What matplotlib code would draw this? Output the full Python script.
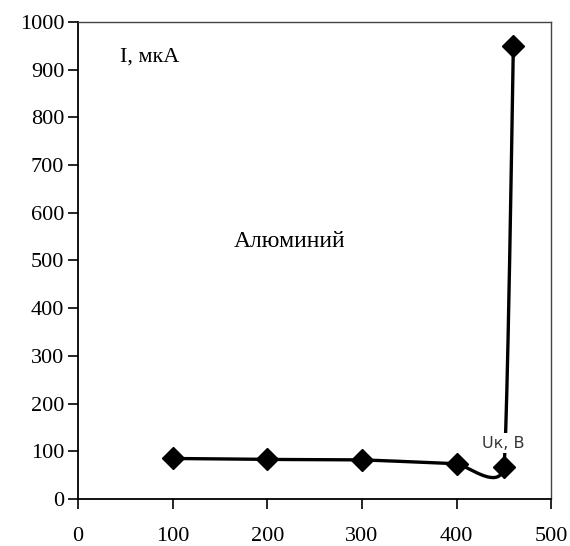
import matplotlib.pyplot as plt
import numpy as np

# data
u_kv = [100, 200, 300, 400, 450, 460]
i_mka = [85, 83, 82, 74, 68, 950]
x_ticks = [0, 100, 200, 300, 400, 500]
y_ticks = [0, 100, 200, 300, 400, 500, 600, 700, 800, 900, 1000]


def smooth(xs, ys, k=1/16., n=60):
    # Excel-like smoothed line (Bezier through the points)
    pts = np.column_stack([np.asarray(xs, float), np.asarray(ys, float)])
    out = []
    for i in range(len(pts) - 1):
        p0 = pts[max(i - 1, 0)]
        p1 = pts[i]
        p2 = pts[i + 1]
        p3 = pts[min(i + 2, len(pts) - 1)]
        c1 = p1 + (p2 - p0) * k
        c2 = p2 - (p3 - p1) * k
        t = np.linspace(0, 1, n)[:, None]
        seg = ((1 - t) ** 3) * p1 + 3 * ((1 - t) ** 2) * t * c1 + 3 * (1 - t) * t ** 2 * c2 + t ** 3 * p2
        out.append(seg)
    out = np.vstack(out)
    return out[:, 0], out[:, 1]


fig = plt.figure(figsize=(5.7, 5.46), dpi=100)
ax = fig.add_axes([0.137, 0.086, 0.830, 0.874])

sx, sy = smooth(u_kv, i_mka)
ax.plot(sx, sy, color='black', lw=2.4, zorder=2)
ax.plot(u_kv, i_mka, linestyle='none', marker='D', markersize=11,
        color='black', zorder=3)

ax.set_xlim(0, 500)
ax.set_ylim(0, 1000)
ax.set_xticks(x_ticks)
ax.set_yticks(y_ticks)

serif = ['Liberation Serif', 'DejaVu Serif']
for lab in ax.get_xticklabels() + ax.get_yticklabels():
    lab.set_family(serif)
    lab.set_fontsize(16)
ax.tick_params(axis='both', direction='out', length=7, width=1.2, color='black')
ax.tick_params(axis='x', pad=13)
ax.tick_params(axis='y', pad=3)

for s in ['left', 'bottom']:
    ax.spines[s].set_linewidth(1.3)
    ax.spines[s].set_color('black')
for s in ['top', 'right']:
    ax.spines[s].set_linewidth(1.0)
    ax.spines[s].set_color('#444444')

ax.text(44, 927, 'I, мкА', family=serif, fontsize=16, va='center', ha='left')
ax.text(164, 539, 'Алюминий', family=serif, fontsize=17, va='center', ha='left')
ax.text(427, 117, 'Uк, В', fontsize=11.5, color='#333333', va='center', ha='left',
        bbox=dict(facecolor='white', edgecolor='none', pad=2), zorder=4)

fig.savefig('out.png', dpi=100)
